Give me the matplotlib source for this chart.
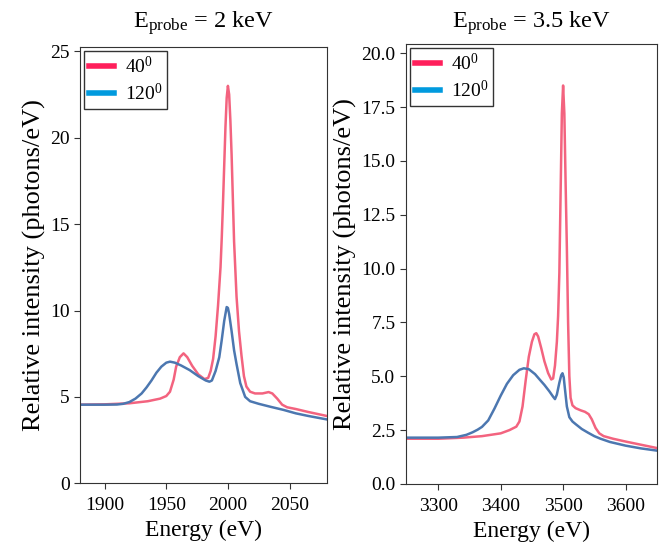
import matplotlib
matplotlib.use("Agg")
import matplotlib.pyplot as plt
from matplotlib.lines import Line2D

plt.rcParams['font.family'] = ['Liberation Serif', 'DejaVu Serif']
plt.rcParams['mathtext.fontset'] = 'custom'
plt.rcParams['mathtext.rm'] = 'Liberation Serif'
plt.rcParams['mathtext.it'] = 'Liberation Serif'

# E_probe = 2 keV spectra (40 deg / 120 deg)
e_2kev_40 = [1880, 1900, 1920, 1935, 1945, 1950, 1953, 1956, 1958, 1961, 1964, 1967, 1971,
             1976, 1981, 1984, 1986, 1988, 1990, 1992, 1994, 1995, 1996, 1997, 1998, 1999,
             2000, 2001, 2002, 2003, 2004, 2005, 2007, 2009, 2011, 2013, 2015, 2018, 2022,
             2028, 2033, 2036, 2040, 2044, 2048, 2055, 2065, 2080]
i40_2kev = [4.55, 4.57, 4.63, 4.75, 4.9, 5.05, 5.3, 6.0, 6.75, 7.3, 7.52, 7.3, 6.8,
            6.3, 6.03, 6.1, 6.5, 7.2, 8.5, 10.3, 12.5, 14.2, 16.2, 18.4, 20.6, 22.3,
            23.0, 22.5, 21.0, 19.0, 16.5, 14.0, 10.8, 8.8, 7.4, 6.2, 5.6, 5.3, 5.2,
            5.2, 5.28, 5.2, 4.9, 4.55, 4.4, 4.3, 4.13, 3.9]
e_2kev_120 = [1880, 1900, 1910, 1915, 1920, 1925, 1930, 1934, 1938, 1942, 1946, 1950, 1953,
              1957, 1962, 1969, 1976, 1982, 1985, 1987, 1990, 1993, 1995, 1997, 1999, 2000,
              2001, 2003, 2005, 2007, 2010, 2014, 2018, 2025, 2035, 2045, 2055, 2065, 2080]
i120_2kev = [4.55, 4.55, 4.56, 4.6, 4.7, 4.9, 5.2, 5.55, 5.95, 6.4, 6.75, 6.98, 7.04,
             6.98, 6.82, 6.55, 6.2, 5.95, 5.88, 5.95, 6.5, 7.3, 8.3, 9.4, 10.2, 10.15,
             9.8, 8.8, 7.7, 6.9, 5.8, 5.0, 4.75, 4.6, 4.42, 4.25, 4.05, 3.9, 3.7]

# E_probe = 3.5 keV spectra (40 deg / 120 deg)
e_35kev_40 = [3248, 3300, 3340, 3370, 3400, 3414, 3425, 3430, 3435, 3440, 3445, 3450, 3454,
              3457, 3460, 3465, 3470, 3476, 3481, 3484, 3487, 3490, 3492, 3494, 3496, 3498,
              3500, 3502, 3504, 3506, 3508, 3510, 3512, 3515, 3520, 3528, 3535, 3541, 3546,
              3552, 3558, 3565, 3580, 3600, 3625, 3650]
i40_35kev = [2.1, 2.1, 2.15, 2.22, 2.35, 2.5, 2.66, 2.9, 3.6, 4.8, 5.9, 6.6, 6.95,
             7.0, 6.85, 6.3, 5.7, 5.15, 4.85, 4.9, 5.5, 6.6, 7.8, 9.8, 13.5, 17.2,
             18.5, 17.2, 14.0, 11.0, 7.5, 5.0, 4.0, 3.65, 3.52, 3.42, 3.35, 3.24, 3.0,
             2.6, 2.35, 2.22, 2.1, 1.97, 1.82, 1.67]
e_35kev_120 = [3248, 3300, 3330, 3345, 3355, 3363, 3370, 3380, 3390, 3400, 3410, 3420, 3430,
               3437, 3445, 3455, 3463, 3470, 3478, 3484, 3487, 3490, 3494, 3497, 3499, 3501,
               3503, 3506, 3510, 3515, 3520, 3530, 3540, 3550, 3560, 3575, 3600, 3625, 3650]
i120_35kev = [2.15, 2.15, 2.18, 2.28, 2.4, 2.52, 2.65, 2.95, 3.5, 4.1, 4.65, 5.05, 5.3,
              5.37, 5.33, 5.1, 4.83, 4.6, 4.3, 4.05, 3.94, 4.15, 4.7, 5.05, 5.14, 4.95,
              4.4, 3.6, 3.1, 2.9, 2.78, 2.55, 2.38, 2.22, 2.1, 1.95, 1.78, 1.65, 1.55]

red_line = '#f3637f'
blue_line = '#4c77b0'
red_leg = '#ff1f5b'
blue_leg = '#009ade'

fig = plt.figure(figsize=(6.61, 5.45), dpi=100)
ax1 = fig.add_axes([0.121, 0.1132, 0.373, 0.8006])
ax2 = fig.add_axes([0.614, 0.112, 0.3795, 0.807])

panels = [
    (ax1, e_2kev_40, i40_2kev, e_2kev_120, i120_2kev, r'E$_{\mathrm{probe}}$ = 2 keV',
     (1880, 2080), (0, 25.25), [1900, 1950, 2000, 2050], [0, 5, 10, 15, 20, 25], '{:.0f}', 14),
    (ax2, e_35kev_40, i40_35kev, e_35kev_120, i120_35kev, r'E$_{\mathrm{probe}}$ = 3.5 keV',
     (3248, 3650), (0, 20.42), [3300, 3400, 3500, 3600],
     [0, 2.5, 5, 7.5, 10, 12.5, 15, 17.5, 20], '{:.1f}', 11.8),
]

for ax, x40, y40, x120, y120, title, xl, yl, xt, yt, fmt, tpad in panels:
    ax.plot(x40, y40, color=red_line, lw=1.8)
    ax.plot(x120, y120, color=blue_line, lw=1.8)
    ax.set_xlim(*xl)
    ax.set_ylim(*yl)
    ax.set_xticks(xt)
    ax.set_yticks(yt)
    ax.set_yticklabels([fmt.format(v) for v in yt])
    ax.tick_params(labelsize=14, length=4, color='#333333')
    ax.tick_params(axis='x', pad=6)
    for s in ax.spines.values():
        s.set_color('#333333')
    ax.set_title(title, fontsize=17.5, pad=tpad)
    ax.set_xlabel('Energy (eV)', fontsize=17, labelpad=4)
    ax.set_ylabel('Relative intensity (photons/eV)', fontsize=19, labelpad=3)
    handles = [Line2D([], [], color=red_leg, lw=4), Line2D([], [], color=blue_leg, lw=4)]
    leg = ax.legend(handles, [r'40$^{0}$', r'120$^{0}$'], loc='upper left', fontsize=14,
                    fancybox=False, edgecolor='#333333', framealpha=1,
                    handlelength=1.3, handletextpad=0.55, borderpad=0.25,
                    labelspacing=0.3, borderaxespad=0.2)
    leg.get_frame().set_linewidth(1.0)

fig.savefig('out.png', dpi=100)
